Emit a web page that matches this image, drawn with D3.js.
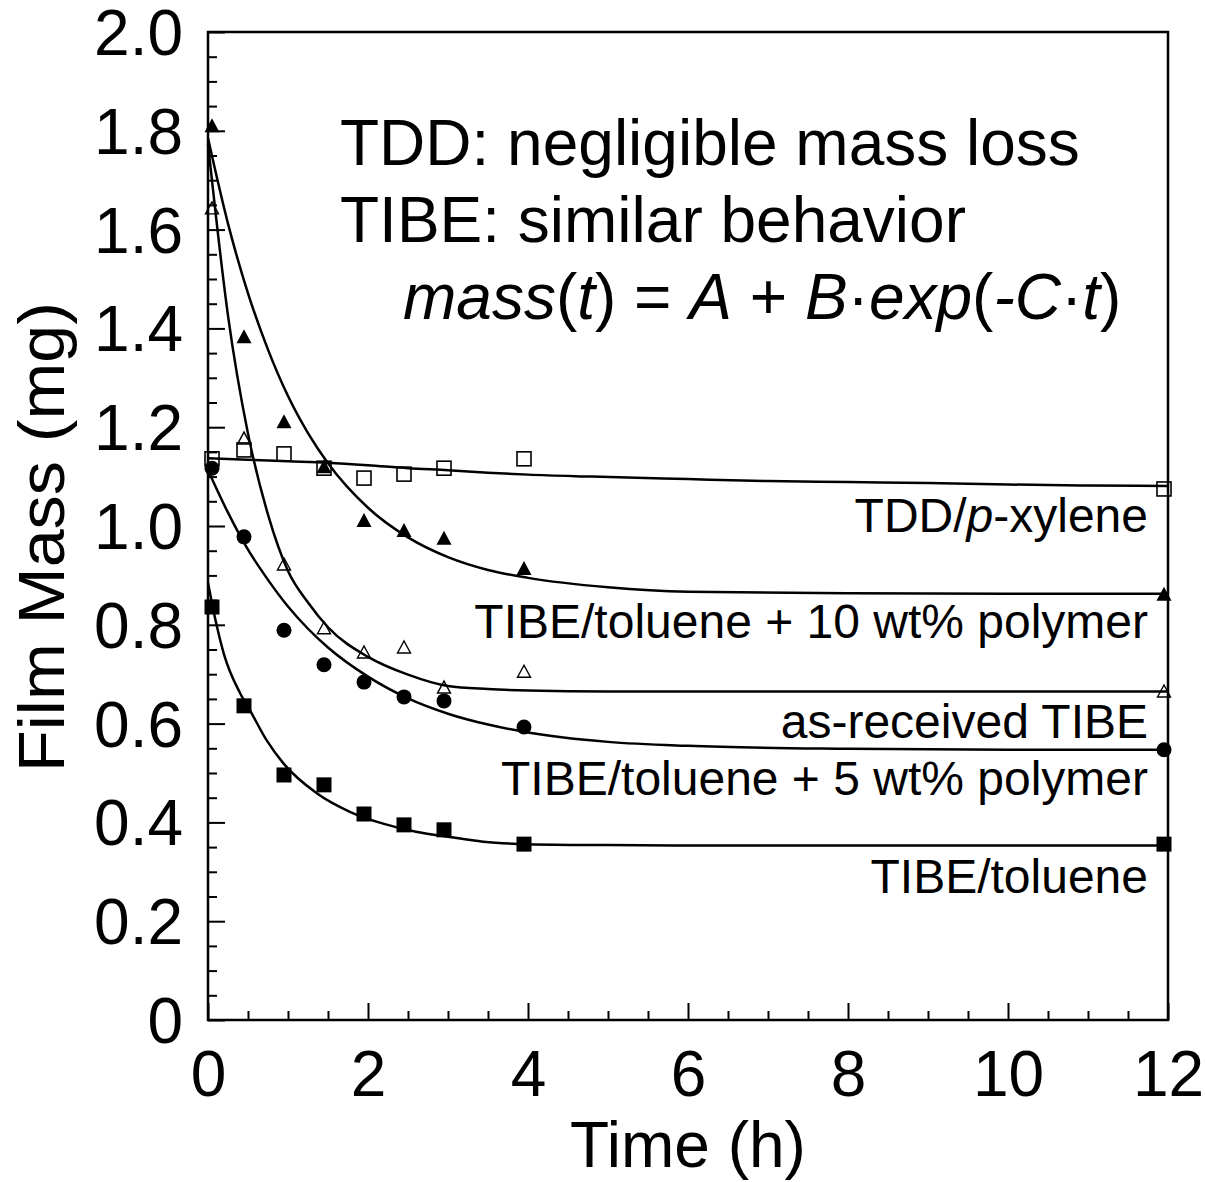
<!DOCTYPE html>
<html>
<head>
<meta charset="utf-8">
<script src="https://cdn.jsdelivr.net/npm/d3@7"></script>
<style>
  html, body { margin: 0; padding: 0; background: #fff; }
  svg { display: block; font-family: "Liberation Sans", Arial, Helvetica, sans-serif; }
</style>
</head>
<body>
<svg id="chart" width="1205" height="1182"></svg>
<script>
// ---------- DATA ----------
const timeMarkers = [0.05, 0.45, 0.95, 1.45, 1.95, 2.45, 2.95, 3.95, 11.95];

const massTDD        = [1.136, 1.154, 1.146, 1.117, 1.097, 1.105, 1.117, 1.136, 1.075];
const massTIBE10     = [1.811, 1.384, 1.212, 1.121, 1.012, 0.992, 0.976, 0.915, 0.863];
const massAsReceived = [1.644, 1.178, 0.923, 0.794, 0.745, 0.755, 0.674, 0.706, 0.666];
const massTIBE5      = [1.117, 0.978, 0.789, 0.719, 0.684, 0.654, 0.646, 0.593, 0.547];
const massTIBE       = [0.836, 0.636, 0.496, 0.476, 0.417, 0.395, 0.385, 0.356, 0.356];

// fitted curves
const fitTimeTDD = [0, 0.5, 1, 1.5, 2, 2.5, 3, 3.5, 4, 4.8, 6, 7, 8, 9, 10, 11, 12];
const fitTDD     = [1.137, 1.134, 1.131, 1.128, 1.123, 1.117, 1.113, 1.108, 1.104, 1.100, 1.095, 1.091, 1.089, 1.087, 1.084, 1.082, 1.081];

const fitTime = [0, 0.25, 0.5, 0.75, 1, 1.25, 1.5, 2, 2.5, 3, 3.5, 4, 5, 6, 8, 10, 12];
const fitTIBE10     = [1.785, 1.612, 1.471, 1.357, 1.263, 1.188, 1.127, 1.037, 0.977, 0.937, 0.911, 0.895, 0.876, 0.867, 0.864, 0.863, 0.863];
const fitAsReceived = [1.774, 1.426, 1.187, 1.023, 0.909, 0.845, 0.795, 0.735, 0.699, 0.676, 0.670, 0.667, 0.665, 0.665, 0.665, 0.665, 0.665];
const fitTIBE5      = [1.113, 1.027, 0.952, 0.891, 0.837, 0.792, 0.754, 0.695, 0.651, 0.620, 0.598, 0.582, 0.563, 0.555, 0.549, 0.547, 0.547];

const fitTimeTIBE = [0, 0.1, 0.2, 0.4, 0.525, 0.73, 0.94, 1.36, 1.78, 2.2, 2.6, 3.0, 3.44, 4, 5, 6, 8, 10, 12];
const fitTIBE     = [0.885, 0.805, 0.740, 0.662, 0.627, 0.567, 0.520, 0.459, 0.421, 0.397, 0.381, 0.371, 0.361, 0.356, 0.354, 0.353, 0.353, 0.353, 0.353];

const xMajorTicks = [0, 2, 4, 6, 8, 10, 12];
const yMajorTicks = [0, 0.2, 0.4, 0.6, 0.8, 1.0, 1.2, 1.4, 1.6, 1.8, 2.0];
const yTickLabels = ["0", "0.2", "0.4", "0.6", "0.8", "1.0", "1.2", "1.4", "1.6", "1.8", "2.0"];

const seriesLabels = ["TDD/p-xylene", "TIBE/toluene + 10 wt% polymer", "as-received TIBE",
                      "TIBE/toluene + 5 wt% polymer", "TIBE/toluene"];

// ---------- LAYOUT ----------
const svg = d3.select("#chart");
const L = 208, R = 1168, T = 32, B = 1020;
const x = d3.scaleLinear().domain([0, 12]).range([L, R]);
const y = d3.scaleLinear().domain([0, 2]).range([B, T]);

svg.append("rect").attr("width", 1205).attr("height", 1182).attr("fill", "#fff");

// ---------- AXES ----------
const gx = svg.append("g").attr("transform", `translate(0,${B})`);
gx.call(d3.axisBottom(x).tickValues(d3.range(0, 12.01, 0.5).filter(v => v % 2 !== 0))
  .tickSizeInner(-9).tickSizeOuter(0).tickFormat(""));
gx.call(g => g.select(".domain").remove());
const gx2 = svg.append("g").attr("transform", `translate(0,${B})`)
  .call(d3.axisBottom(x).tickValues(xMajorTicks).tickSizeInner(-17).tickSizeOuter(0).tickPadding(0).tickFormat(d3.format("d")));
gx2.select(".domain").remove();
gx2.selectAll(".tick text").attr("y", 76).attr("dy", 0)
  .attr("font-size", 64).attr("fill", "#000").attr("font-family", "Liberation Sans, Arial, sans-serif");

const gy = svg.append("g").attr("transform", `translate(${L},0)`);
gy.call(d3.axisLeft(y).tickValues(d3.range(0, 2.001, 0.05).filter(v => Math.abs(v / 0.2 - Math.round(v / 0.2)) > 1e-6))
  .tickSizeInner(-9).tickSizeOuter(0).tickFormat(""));
gy.select(".domain").remove();
const gy2 = svg.append("g").attr("transform", `translate(${L},0)`)
  .call(d3.axisLeft(y).tickValues(yMajorTicks).tickSizeInner(-17).tickSizeOuter(0)
    .tickFormat((d, i) => yTickLabels[i]));
gy2.select(".domain").remove();
gy2.selectAll(".tick text").attr("x", -25).attr("dy", "0.35em")
  .attr("font-size", 64).attr("fill", "#000").attr("font-family", "Liberation Sans, Arial, sans-serif");
svg.selectAll(".tick line").attr("stroke", "#000").attr("stroke-width", 2);

// frame
svg.append("rect").attr("x", L).attr("y", T).attr("width", R - L).attr("height", B - T)
  .attr("fill", "none").attr("stroke", "#000").attr("stroke-width", 2.5);

// axis titles
svg.append("text").attr("x", (L + R) / 2).attr("y", 1167).attr("text-anchor", "middle")
  .attr("font-size", 64).text("Time (h)");
svg.append("text").attr("transform", `translate(64,537) rotate(-90)`)
  .attr("text-anchor", "middle").attr("font-size", 64)
  .attr("textLength", 470).attr("lengthAdjust", "spacingAndGlyphs").text("Film Mass (mg)");

// ---------- FIT CURVES ----------
const line = d3.line().x(d => x(d[0])).y(d => y(d[1])).curve(d3.curveMonotoneX);
const curves = [
  [fitTimeTDD, fitTDD], [fitTime, fitTIBE10], [fitTime, fitAsReceived],
  [fitTime, fitTIBE5], [fitTimeTIBE, fitTIBE]
];
curves.forEach(([ts, ms]) => {
  svg.append("path").datum(ts.map((t, i) => [t, ms[i]]))
    .attr("d", line).attr("fill", "none").attr("stroke", "#000").attr("stroke-width", 2.5);
});

// ---------- MARKERS ----------
function tri(cx, cy, w, h) {
  return `M${cx},${cy - h / 2}L${cx - w / 2},${cy + h / 2}L${cx + w / 2},${cy + h / 2}Z`;
}
const pts = arr => timeMarkers.map((t, i) => ({ cx: x(t), cy: y(arr[i]) }));

// open squares
svg.append("g").selectAll("rect").data(pts(massTDD)).join("rect")
  .attr("x", d => d.cx - 7).attr("y", d => d.cy - 7).attr("width", 14).attr("height", 14)
  .attr("fill", "none").attr("stroke", "#000").attr("stroke-width", 1.6);
// filled triangles
svg.append("g").selectAll("path").data(pts(massTIBE10)).join("path")
  .attr("d", d => tri(d.cx, d.cy, 15, 14)).attr("fill", "#000");
// open triangles
svg.append("g").selectAll("path").data(pts(massAsReceived)).join("path")
  .attr("d", d => tri(d.cx, d.cy, 13, 12)).attr("fill", "none").attr("stroke", "#000").attr("stroke-width", 1.4);
// filled circles
svg.append("g").selectAll("circle").data(pts(massTIBE5)).join("circle")
  .attr("cx", d => d.cx).attr("cy", d => d.cy).attr("r", 7.5).attr("fill", "#000");
// filled squares
svg.append("g").selectAll("rect").data(pts(massTIBE)).join("rect")
  .attr("x", d => d.cx - 7.5).attr("y", d => d.cy - 7.5).attr("width", 15).attr("height", 15)
  .attr("fill", "#000");

// ---------- SERIES LABELS ----------
const labelBaselines = [532, 638, 738, 795, 893];
seriesLabels.forEach((s, i) => {
  const t = svg.append("text").attr("x", 1148).attr("y", labelBaselines[i])
    .attr("text-anchor", "end").attr("font-size", 48);
  if (s.includes("/p-")) {
    t.append("tspan").text("TDD/");
    t.append("tspan").attr("font-style", "italic").text("p");
    t.append("tspan").text("-xylene");
  } else {
    t.text(s);
  }
});

// ---------- ANNOTATION ----------
svg.append("text").attr("x", 340).attr("y", 165).attr("font-size", 64).text("TDD: negligible mass loss");
svg.append("text").attr("x", 340).attr("y", 242).attr("font-size", 64).text("TIBE: similar behavior");
const eq = svg.append("text").attr("x", 403).attr("y", 319).attr("font-size", 64);
[["mass", true], ["(", false], ["t", true], [") = ", false], ["A", true], [" + ", false],
 ["B", true], ["·", false], ["exp", true], ["(", false], ["-C", true], ["·", false], ["t", true], [")", false]]
  .forEach(([s, it]) => eq.append("tspan").attr("font-style", it ? "italic" : "normal").text(s));
</script>
</body>
</html>
